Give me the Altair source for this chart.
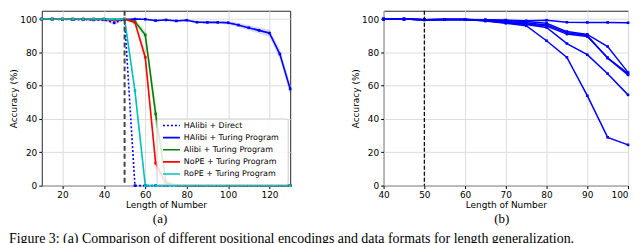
import altair as alt
import pandas as pd

# ---------------- Panel (a) data ----------------
x_a = list(range(10, 135, 5))
series_a = ["HAlibi + Direct", "HAlibi + Turing Program", "Alibi + Turing Program",
            "NoPE + Turing Program", "RoPE + Turing Program"]
colors_a = ["#0000ff", "#0000ff", "#008000", "#ff0000", "#00bfbf"]
dashes_a = [[2, 2], [1, 0], [1, 0], [1, 0], [1, 0]]

halibi_direct = [100, 100, 99.7, 99.7, 99.6, 99.5, 99.5, 97.8, 99.8, 0] + [0] * 15
halibi_direct_err = [0.3, 0.3, 0.3, 0.3, 0.3, 0.4, 0.5, 1.5, 0.4, 0] + [0] * 15
halibi_tp = [100, 100, 99.9, 99.9, 99.9, 99.8, 99.8, 99.6, 99.8, 100, 99.9, 99.1, 99.5,
             98.9, 99.3, 98.1, 98.0, 98.0, 97.8, 96.4, 94.8, 93.2, 91.6, 79.0, 58.0]
halibi_tp_err = [0.2, 0.2, 0.2, 0.2, 0.2, 0.3, 0.3, 0.6, 0.3, 0.3, 0.3, 0.5, 0.5,
                 0.6, 0.6, 0.8, 0.8, 0.8, 1.0, 1.3, 1.6, 1.8, 2.2, 3.0, 3.5]
alibi_tp = [100, 100, 100, 100, 100, 100, 100, 99.6, 100, 98.5, 90.5, 43.0, 2.0, 0.3] + [0] * 11
alibi_tp_err = [0, 0, 0, 0, 0, 0, 0, 0.4, 0.2, 1.2, 3.0, 7.0, 2.5, 0.5] + [0] * 11
nope_tp = [100, 100, 100, 100, 100, 100, 100, 99.3, 100, 98.0, 77.0, 13.5, 1.0, 0] + [0] * 11
nope_tp_err = [0, 0, 0, 0, 0, 0, 0, 0.4, 0.2, 1.5, 4.0, 4.0, 1.0, 0] + [0] * 11
rope_tp = [100, 100, 100, 100, 100, 100, 100, 99.8, 100, 57.0, 0] + [0] * 14
rope_tp_err = [0, 0, 0, 0, 0, 0, 0, 0.2, 0.2, 3.0, 0] + [0] * 14

vals_a = [halibi_direct, halibi_tp, alibi_tp, nope_tp, rope_tp]
errs_a = [halibi_direct_err, halibi_tp_err, alibi_tp_err, nope_tp_err, rope_tp_err]

rows = []
for s, vals, errs in zip(series_a, vals_a, errs_a):
    for i, (xv, v, e) in enumerate(zip(x_a, vals, errs)):
        rows.append({"x": xv, "acc": v, "lo": max(v - e, 0), "hi": min(v + e, 100),
                     "series": s, "order": i})
df_a = pd.DataFrame(rows)

# ---------------- Panel (b) data ----------------
x_b = list(range(40, 105, 5))
b_run1 = [100, 100, 99.6, 99.8, 99.7, 99.6, 99.4, 99.0, 99.3, 98.1, 98.0, 98.0, 97.8]
b_run2 = [100, 100, 99.6, 99.8, 99.7, 99.5, 99.0, 98.5, 97.5, 92.5, 90.8, 83.5, 68.0]
b_run3 = [100, 100, 99.6, 99.8, 99.7, 99.3, 98.5, 97.8, 96.5, 91.8, 90.2, 76.5, 66.5]
b_run4 = [100, 100, 99.6, 99.8, 99.7, 99.2, 98.0, 97.2, 95.8, 91.0, 89.5, 76.8, 67.2]
b_run5 = [100, 100, 99.6, 99.8, 99.7, 99.0, 97.8, 96.8, 95.0, 85.3, 78.6, 67.2, 54.5]
b_run6 = [100, 100, 99.6, 99.8, 99.7, 98.8, 97.5, 96.0, 87.0, 77.0, 54.0, 29.0, 24.5]
runs_b = [b_run1, b_run2, b_run3, b_run4, b_run5, b_run6]

rows_b = []
for k, vals in enumerate(runs_b):
    for i, (xv, v) in enumerate(zip(x_b, vals)):
        rows_b.append({"x": xv, "acc": v, "run": f"run{k+1}", "order": i})
df_b = pd.DataFrame(rows_b)

y_ticks = [0, 20, 40, 60, 80, 100]
x_ticks_a = [20, 40, 60, 80, 100, 120]
x_ticks_b = [40, 50, 60, 70, 80, 90, 100]
train_len = [50]
sub_a = ["(a)"]
sub_b = ["(b)"]
caption = ["Figure 3:  (a)  Comparison of different positional encodings and data formats for length generalization."]

W_A, W_B, H = 250, 246, 176
FONT = "DejaVu Sans"

def yaxis():
    return alt.Axis(values=y_ticks, title="Accuracy (%)", grid=True)

color_scale = alt.Scale(domain=series_a, range=colors_a)
dash_scale = alt.Scale(domain=series_a, range=dashes_a)

x_enc_a = alt.X("x:Q", scale=alt.Scale(domain=[10, 130], nice=False, zero=False),
                axis=alt.Axis(values=x_ticks_a, title="Length of Number"))
y_enc = alt.Y("acc:Q", scale=alt.Scale(domain=[0, 105], nice=False), axis=yaxis())

bands = alt.Chart(df_a).mark_area(opacity=0.15).encode(
    x=x_enc_a,
    y=alt.Y("lo:Q", scale=alt.Scale(domain=[0, 105], nice=False), axis=yaxis()),
    y2="hi:Q",
    fill=alt.Fill("series:N", scale=color_scale, legend=None),
    detail="series:N",
)

lines_a = alt.Chart(df_a).mark_line(
    strokeWidth=1.6,
    point=alt.OverlayMarkDef(size=7, filled=True, shape="square"),
).encode(
    x=x_enc_a,
    y=y_enc,
    color=alt.Color("series:N", scale=color_scale, legend=None),
    strokeDash=alt.StrokeDash("series:N", scale=dash_scale, legend=None),
    order="order:Q",
)

vline_a = alt.Chart(pd.DataFrame({"x": train_len})).mark_rule(
    color="#444444", strokeWidth=2, strokeDash=[5, 3]
).encode(x="x:Q")

# manual legend (inside bottom-right of panel a)
LX0, LX1, LY0, LY1 = 116, 248, 109, 175
leg_box = alt.Chart(pd.DataFrame({"k": [0]})).mark_rect(
    fill="white", fillOpacity=0.85, stroke="#cccccc", strokeWidth=1, cornerRadius=2
).encode(x=alt.value(LX0), x2=alt.value(LX1), y=alt.value(LY0), y2=alt.value(LY1))
leg_layers = [leg_box]
for i, (s, c, d) in enumerate(zip(series_a, colors_a, dashes_a)):
    yy = 115.5 + 12.2 * i
    one = pd.DataFrame({"series": [s]})
    leg_layers.append(alt.Chart(one).mark_rule(color=c, strokeWidth=1.6, strokeDash=d).encode(
        x=alt.value(LX0 + 6), x2=alt.value(LX0 + 23), y=alt.value(yy)))
    leg_layers.append(alt.Chart(one).mark_text(
        align="left", baseline="middle", font=FONT, fontSize=8, color="black"
    ).encode(x=alt.value(LX0 + 27), y=alt.value(yy), text="series:N"))

label_a = alt.Chart(pd.DataFrame({"t": sub_a})).mark_text(
    font="Liberation Serif", fontSize=13, baseline="middle", align="center"
).encode(x=alt.value(W_A / 2 - 6), y=alt.value(210), text="t:N")

cap = alt.Chart(pd.DataFrame({"t": caption})).mark_text(
    font="Liberation Serif", fontSize=14, baseline="top", align="left"
).encode(x=alt.value(-33), y=alt.value(223), text="t:N")

panel_a = alt.layer(bands, lines_a, vline_a, *leg_layers, label_a, cap).properties(width=W_A, height=H)

x_enc_b = alt.X("x:Q", scale=alt.Scale(domain=[40, 100], nice=False, zero=False),
                axis=alt.Axis(values=x_ticks_b, title="Length of Number",
                              labelAlign={"condition": {"test": "datum.value >= 100", "value": "right"},
                                          "value": "center"}))

lines_b = alt.Chart(df_b).mark_line(
    strokeWidth=1.5, color="#0000ff",
    point=alt.OverlayMarkDef(size=7, filled=True, shape="square", color="#0000ff"),
).encode(
    x=x_enc_b,
    y=y_enc,
    detail="run:N",
    order="order:Q",
)

vline_b = alt.Chart(pd.DataFrame({"x": train_len})).mark_rule(
    color="black", strokeWidth=1.2, strokeDash=[4, 2]
).encode(x="x:Q")

label_b = alt.Chart(pd.DataFrame({"t": sub_b})).mark_text(
    font="Liberation Serif", fontSize=13, baseline="middle", align="center"
).encode(x=alt.value(W_B / 2 - 4), y=alt.value(210), text="t:N")

panel_b = alt.layer(lines_b, vline_b, label_b).properties(width=W_B, height=H)

chart = alt.hconcat(panel_a, panel_b, spacing=94, bounds="flush").resolve_scale(
    x="independent", y="independent"
).properties(
    padding={"left": 0, "top": 0, "right": 0, "bottom": 0}
).configure_view(
    stroke="#262626", strokeWidth=1
).configure_axis(
    labelFont=FONT, titleFont=FONT, labelFontSize=9, titleFontSize=9,
    labelColor="black", titleColor="black", titleFontWeight="normal",
    tickColor="black", tickSize=3, labelPadding=2, titlePadding=1,
    domain=False, gridColor="#dcdcdc", gridWidth=1,
)

chart.save("out.html", embed_options={"renderer": "svg", "actions": False})
